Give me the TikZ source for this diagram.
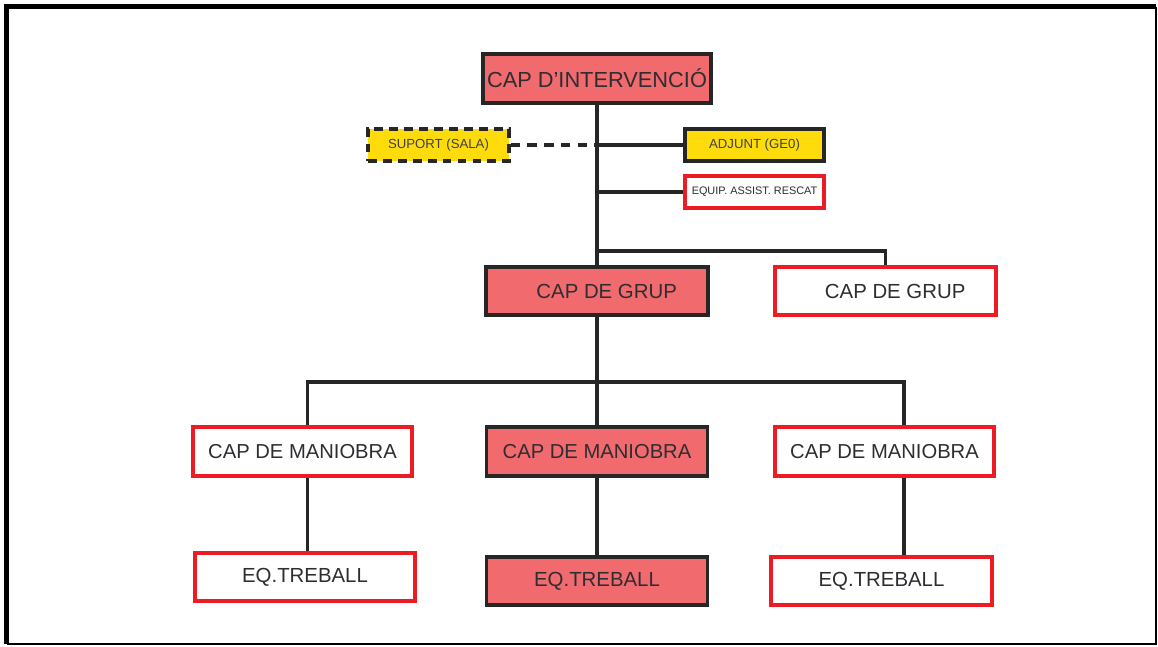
\documentclass[tikz,border=0pt]{standalone}
\definecolor{capsalmon}{RGB}{241, 106, 110}
\definecolor{suportyellow}{RGB}{254, 220, 12}
\definecolor{linered}{RGB}{237, 28, 36}
\definecolor{textgray}{RGB}{45, 45, 50}
\usepackage{fontspec}
\setmainfont{Liberation Sans}
\usepackage{tikz}
\usetikzlibrary{positioning}
\tikzset{
  filledbox/.style={draw=black!85, fill=capsalmon, line width=2pt, inner sep=0pt, text=textgray},
  openbox/.style={draw=linered, fill=white, line width=2pt, inner sep=0pt, text=textgray},
  yellowbox/.style={draw=black!85, fill=suportyellow, line width=2pt, inner sep=0pt, text=black!75, font=\fontsize{7.5}{9}\selectfont},
  link/.style={draw=black!85, line width=1.9pt}
}

\begin{document}
\begin{tikzpicture}[x=0.02cm, y=-0.02cm]
  \useasboundingbox (0,0) rectangle (1158,646);

  % Frame
  \draw[line width=2.8pt] (6.5,644) -- (6.5,6.5) -- (1156,6.5);
  \draw[line width=1.1pt] (1156,6.5) -- (1156,644) -- (6.5,644);

  % Top level
  \node[filledbox, minimum width=4.56cm, minimum height=0.98cm, font=\fontsize{12.4}{14}\selectfont] (interv) at (597,78.5) {CAP D'INTERVENCIÓ};

  % Support and staff
  \node[yellowbox, dash pattern=on 5pt off 3.5pt, minimum width=2.82cm, minimum height=0.64cm] (suport) at (438.5,145) {SUPORT (SALA)};
  \node[yellowbox, minimum width=2.78cm, minimum height=0.64cm] (adjunt) at (754.5,145) {ADJUNT (GE0)};
  \node[openbox, minimum width=2.78cm, minimum height=0.64cm, font=\fontsize{6.2}{7}\selectfont] (equip) at (754.5,192) {EQUIP. ASSIST. RESCAT};

  % Group chiefs
  \node[filledbox, minimum width=4.44cm, minimum height=0.96cm, font=\fontsize{11.6}{13}\selectfont] (grupA) at (597,291) {\hspace*{11pt}CAP DE GRUP};
  \node[openbox, minimum width=4.42cm, minimum height=0.96cm, font=\fontsize{11.6}{13}\selectfont] (grupB) at (885.5,291) {\hspace*{11pt}CAP DE GRUP};

  % Manoeuvre chiefs
  \node[openbox, minimum width=4.38cm, minimum height=0.98cm, font=\fontsize{11.5}{13}\selectfont] (maniobraA) at (302.5,451.5) {CAP DE MANIOBRA};
  \node[filledbox, minimum width=4.42cm, minimum height=0.98cm, font=\fontsize{11.5}{13}\selectfont] (maniobraB) at (597,451.5) {CAP DE MANIOBRA};
  \node[openbox, minimum width=4.38cm, minimum height=0.98cm, font=\fontsize{11.5}{13}\selectfont] (maniobraC) at (884.5,451.5) {CAP DE MANIOBRA};

  % Work teams
  \node[openbox, minimum width=4.40cm, minimum height=0.96cm, font=\fontsize{11.6}{13}\selectfont] (treballA) at (305,577) {EQ.TREBALL};
  \node[filledbox, minimum width=4.42cm, minimum height=0.96cm, font=\fontsize{11.6}{13}\selectfont] (treballB) at (597,581) {EQ.TREBALL};
  \node[openbox, minimum width=4.42cm, minimum height=0.96cm, font=\fontsize{11.6}{13}\selectfont] (treballC) at (881.5,581) {EQ.TREBALL};

  % Junctions on the trunk
  \coordinate (jsuport) at (597,145);
  \coordinate (jequip) at (597,192);
  \coordinate (jgrup) at (597,251);
  \coordinate (jmaniobra) at (597,382);

  % Connectors
  \draw[link] (interv.south) -- (grupA.north);
  \draw[link, dash pattern=on 5.5pt off 4pt] (suport.east) -- (jsuport);
  \draw[link] (jsuport) -- (adjunt.west);
  \draw[link] (jequip) -- (equip.west);
  \draw[link] (jgrup) -| (grupB.north);
  \draw[link] (grupA.south) -- (maniobraB.north);
  \draw[link] (jmaniobra) -| ([xshift=3pt]maniobraA.north);
  \draw[link] (jmaniobra) -| ([xshift=11pt]maniobraC.north);
  \draw[link] ([xshift=3pt]maniobraA.south) -- ([xshift=3pt]maniobraA.south |- treballA.north);
  \draw[link] (maniobraB.south) -- (treballB.north);
  \draw[link] ([xshift=11pt]maniobraC.south) -- ([xshift=11pt]maniobraC.south |- treballC.north);
\end{tikzpicture}
\end{document}
